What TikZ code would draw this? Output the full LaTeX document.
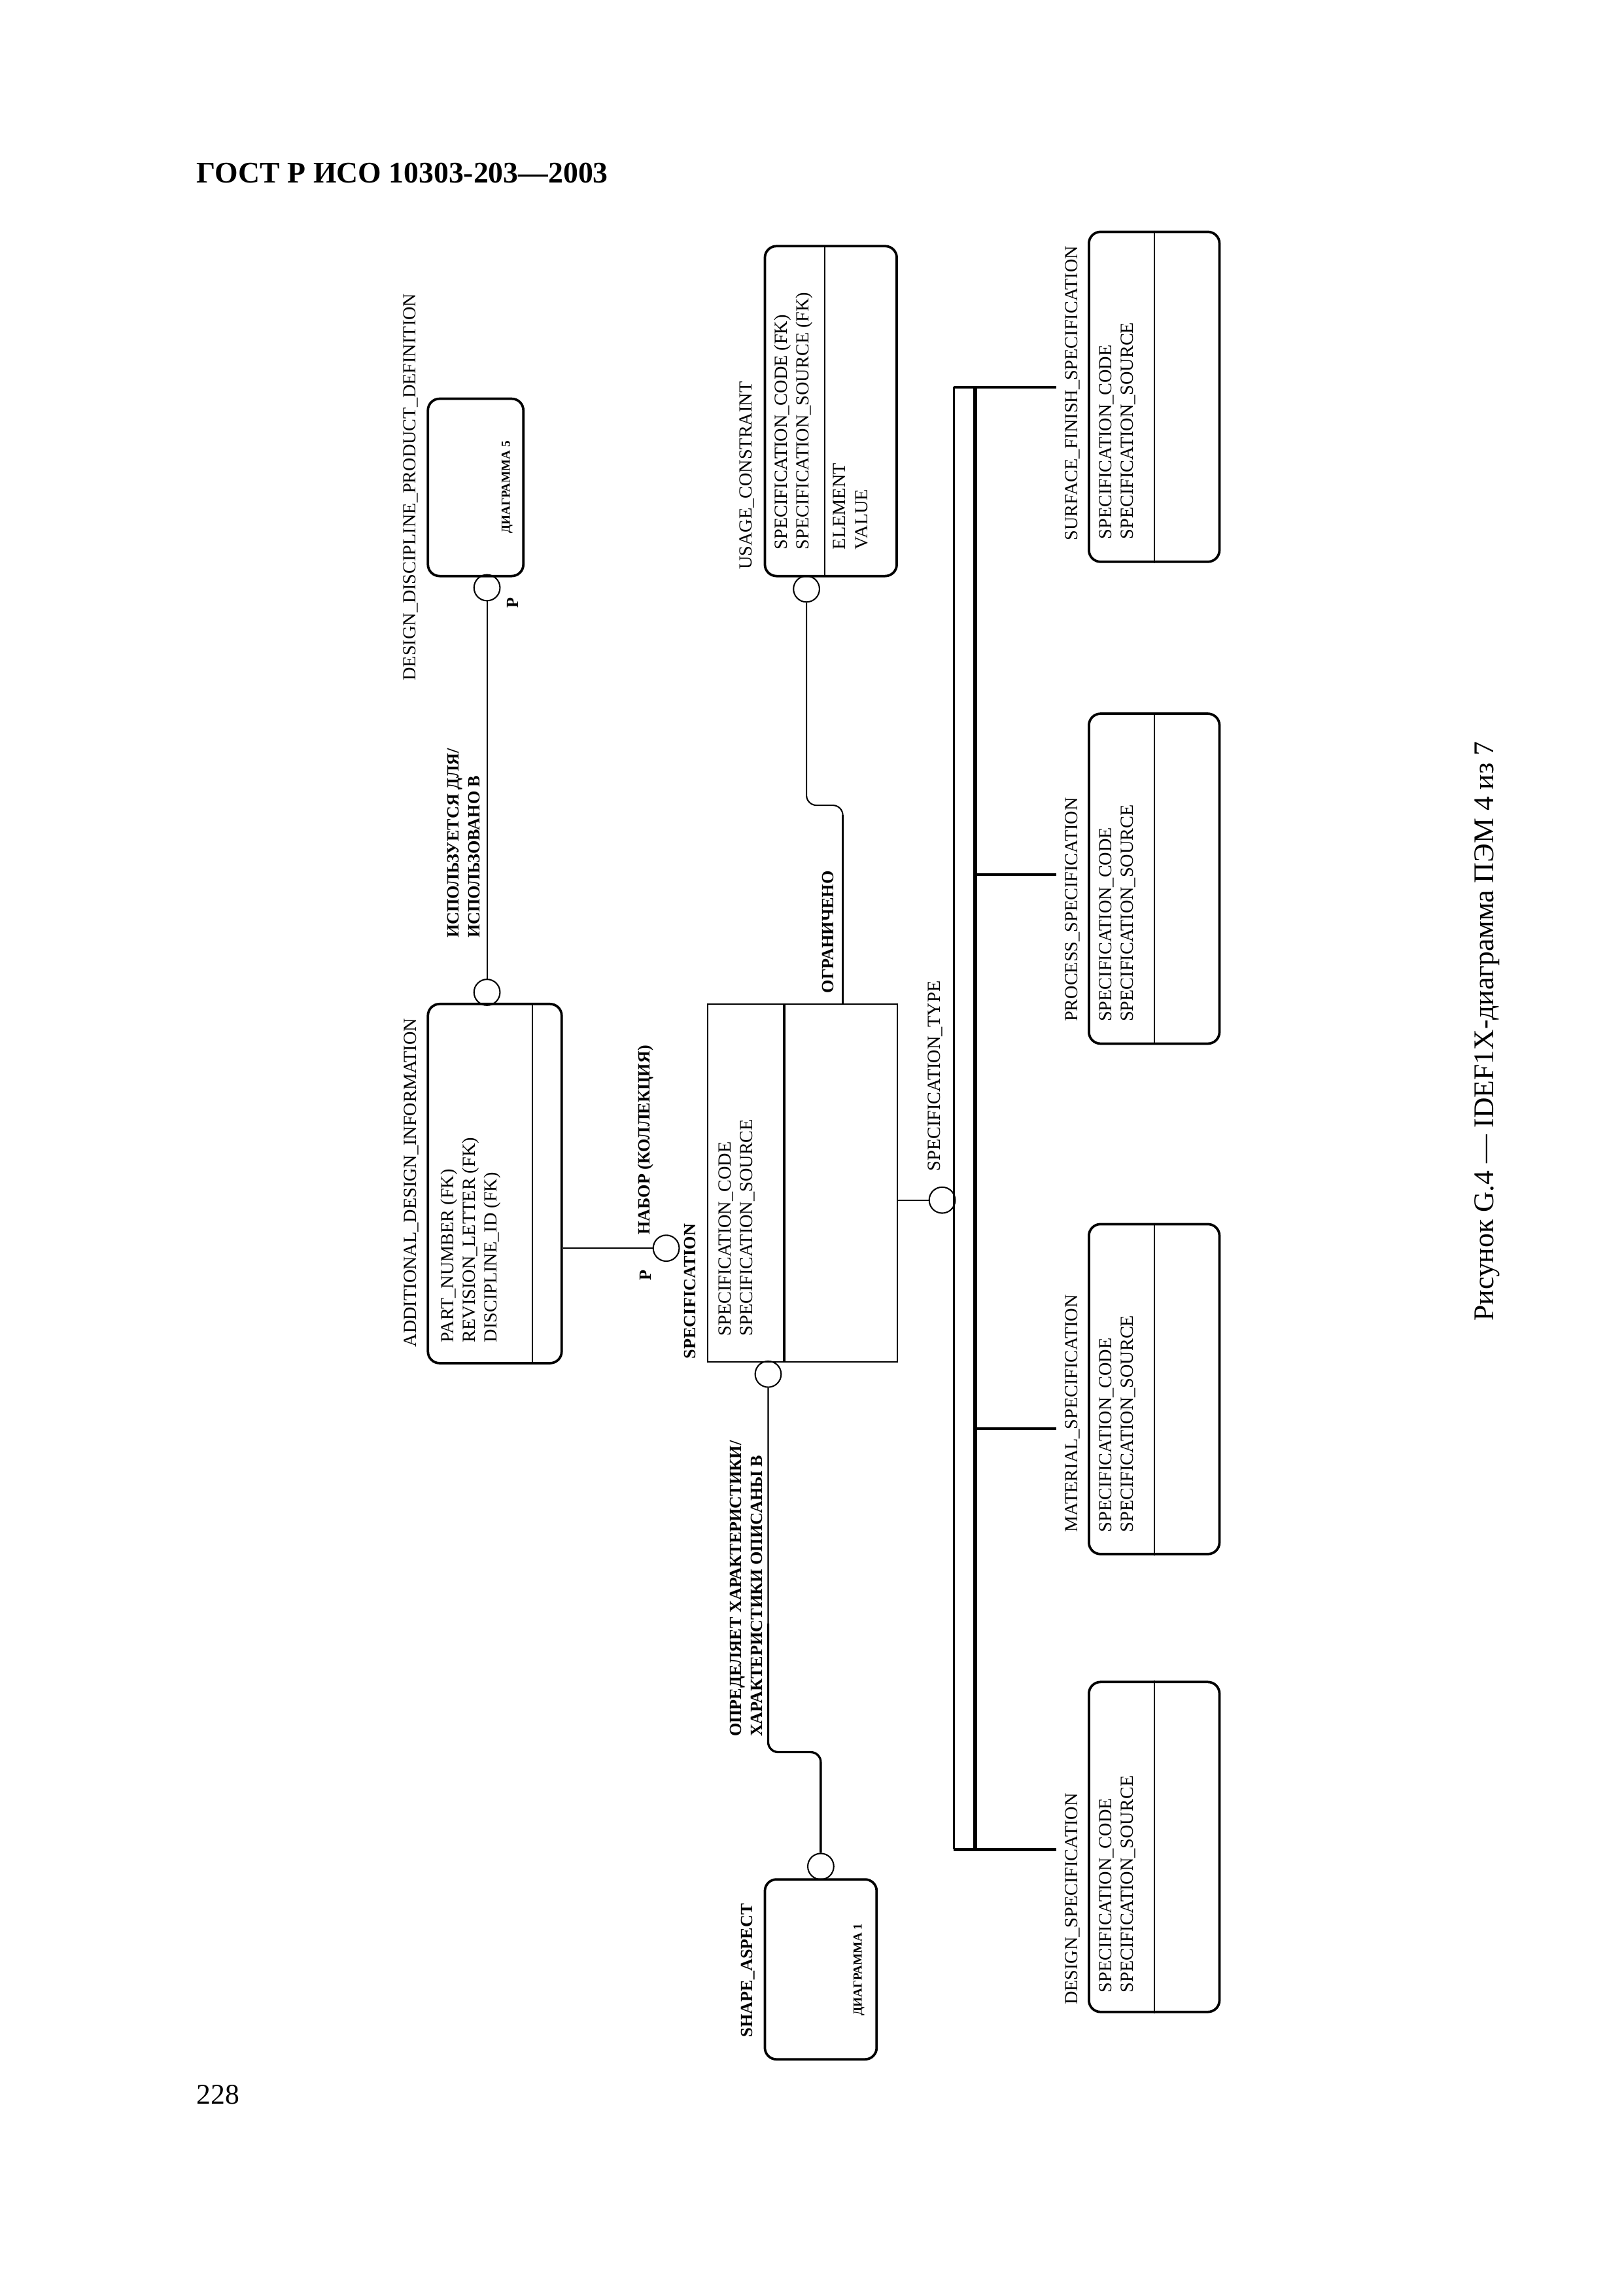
\documentclass[tikz,border=0pt]{standalone}
\usepackage{fontspec}
\setmainfont{Liberation Serif}

\begin{document}
\begin{tikzpicture}[x=0.08396mm, y=-0.08396mm,
        ent/.style={draw=black, line width=0.9pt, rounded corners=1.5mm, inner sep=0pt},
        flat/.style={draw=black, line width=0.5pt, inner sep=0pt},
        div/.style={line width=0.5pt},
        dot/.style={shape=circle, draw=black, line width=0.5pt, minimum size=3.36mm, inner sep=0pt},
        rel/.style={line width=0.5pt, rounded corners=1.3mm},
        thickrel/.style={rel, line width=0.8pt},
        txt/.style={rotate=90, inner sep=0pt, align=left, font=\fontsize{6.8}{8}\selectfont},
        btxt/.style={txt, font=\bfseries\fontsize{6.3}{7.6}\selectfont},
        dia/.style={rotate=90, inner sep=0pt, font=\bfseries\fontsize{4.6}{5.5}\selectfont}]

        \fill[white] (0,0) rectangle (2501,3535.5);
        \useasboundingbox (0,0) rectangle (2501,3535.5);

        \node[anchor=base west, inner sep=0pt, font=\bfseries\fontsize{11}{13}\selectfont] (head) at (302,282) {ГОСТ Р ИСО 10303-203—2003};

        \node[ent, minimum width=12.34mm, minimum height=22.92mm] (ddpd) at (732.5,750.5) {};
        \node[txt] (ddpdname) at (633,750) {DESIGN\_DISCIPLINE\_PRODUCT\_DEFINITION};
        \node[dia] (ddpdref) at (781,750) {ДИАГРАММА 5};
        \node[dot] (c1) at (750,905) {};
        \node[btxt] (p1) at (790,928) {P};

        \node[dot] (c2) at (750,1528) {};
        \node[ent, minimum width=17.29mm, minimum height=46.43mm] (adi) at (762,1822.5) {};
        \draw[div] (820,1546) -- (820,2099);
        \node[txt, anchor=west] (adiname) at (634,2075) {ADDITIONAL\_DESIGN\_INFORMATION};
        \node[txt, anchor=west] (adikey) at (725,2068) {PART\_NUMBER (FK)\\REVISION\_LETTER (FK)\\DISCIPLINE\_ID (FK)};
        \node[btxt, anchor=west] (uses) at (714,1445) {ИСПОЛЬЗУЕТСЯ ДЛЯ/\\ИСПОЛЬЗОВАНО В};

        \path[rel] (c1) edge (c2);

        \node[dot] (c3) at (1026,1922) {};
        \node[btxt] (p2) at (994,1964) {P};
        \node[btxt, anchor=west] (set) at (994,1902) {НАБОР (КОЛЛЕКЦИЯ)};
        \draw[rel] (adi.east |- c3) -- (c3);

        \node[flat, minimum width=24.51mm, minimum height=46.26mm] (spec) at (1236,1821.5) {};
        \draw[line width=0.9pt] (1208,1546) -- (1208,2097);
        \node[btxt, anchor=west] (specname) at (1063,2093) {SPECIFICATION};
        \node[txt, anchor=west] (speckey) at (1135,2058) {SPECIFICATION\_CODE\\SPECIFICATION\_SOURCE};

        \node[dot] (c4) at (1183,2116) {};
        \coordinate (jog1) at (1264,2698);
        \coordinate (thick1) at (1183,2500);
        \node[dot] (c5) at (1264,2874) {};
        \draw[rel] (c4) |- (jog1) -- (c5);
        \draw[thickrel] (thick1) |- (jog1) -- (c5);
        \node[btxt, anchor=west] (defines) at (1149,2675) {ОПРЕДЕЛЯЕТ ХАРАКТЕРИСТИКИ/\\ХАРАКТЕРИСТИКИ ОПИСАНЫ В};

        \node[ent, minimum width=14.45mm, minimum height=23.26mm] (sa) at (1264,3032.5) {};
        \node[btxt] (saname) at (1152,3034) {SHAPE\_ASPECT};
        \node[dia] (saref) at (1323,3033) {ДИАГРАММА 1};

        \node[ent, minimum width=17.05mm, minimum height=42.65mm] (uc) at (1279.5,633) {};
        \draw[div] (1270,379) -- (1270,887);
        \node[txt, anchor=west] (ucname) at (1150,878) {USAGE\_CONSTRAINT};
        \node[txt, anchor=west] (uckey) at (1222,847) {SPECIFICATION\_CODE (FK)\\SPECIFICATION\_SOURCE (FK)};
        \node[txt, anchor=west] (ucattr) at (1310,847) {ELEMENT\\VALUE};
        \node[dot] (c6) at (1242,907) {};
        \coordinate (jog2) at (1298,1240);
        \draw[rel] (c6) |- (jog2) -- (jog2 |- spec.north);
        \draw[thickrel] ([yshift=-1.3mm]jog2) -- (jog2 |- spec.north);
        \node[btxt, anchor=west] (limits) at (1275,1530) {ОГРАНИЧЕНО};

        \node[dot] (c7) at (1451,1848) {};
        \draw[rel] (spec.east |- c7) -- (c7);
        \node[txt, anchor=west] (spectype) at (1440,1804) {SPECIFICATION\_TYPE};

        \coordinate (cat1) at (1469,596);
        \coordinate (cat2) at (1469,2848);
        \coordinate (bar1) at (1502,596);
        \coordinate (bar2) at (1502,2848);
        \draw[line width=0.7pt] (cat1) -- (cat2);
        \draw[line width=1.3pt] (bar1) -- (bar2);

        \node[ent, minimum width=16.88mm, minimum height=42.65mm] (sfs) at (1777.5,611) {};
        \draw[div] (sfs.north) -- (sfs.south);
        \node[txt, anchor=west] (sfsname) at (1652,833) {SURFACE\_FINISH\_SPECIFICATION};
        \node[txt, anchor=west] (sfskey) at (1721,831) {SPECIFICATION\_CODE\\SPECIFICATION\_SOURCE};
        \coordinate (sfsin) at (1627,596);
        \draw[line width=1pt] (cat1) -- (sfsin);

        \node[ent, minimum width=16.88mm, minimum height=42.65mm] (ps) at (1777.5,1353) {};
        \draw[div] (ps.north) -- (ps.south);
        \node[txt, anchor=west] (psname) at (1652,1574) {PROCESS\_SPECIFICATION};
        \node[txt, anchor=west] (pskey) at (1721,1574) {SPECIFICATION\_CODE\\SPECIFICATION\_SOURCE};
        \coordinate (psin) at (1627,1347);
        \draw[line width=1pt] (bar1 |- psin) -- (psin);

        \node[ent, minimum width=16.88mm, minimum height=42.65mm] (ms) at (1777.5,2139) {};
        \draw[div] (ms.north) -- (ms.south);
        \node[txt, anchor=west] (msname) at (1652,2360) {MATERIAL\_SPECIFICATION};
        \node[txt, anchor=west] (mskey) at (1721,2360) {SPECIFICATION\_CODE\\SPECIFICATION\_SOURCE};
        \coordinate (msin) at (1627,2200);
        \draw[line width=1pt] (bar1 |- msin) -- (msin);

        \node[ent, minimum width=16.88mm, minimum height=42.65mm] (ds) at (1777.5,2844) {};
        \draw[div] (ds.north) -- (ds.south);
        \node[txt, anchor=west] (dsname) at (1652,3088) {DESIGN\_SPECIFICATION};
        \node[txt, anchor=west] (dskey) at (1721,3069) {SPECIFICATION\_CODE\\SPECIFICATION\_SOURCE};
        \coordinate (dsin) at (1627,2848);
        \draw[line width=1pt] (cat2) -- (dsin);

        \node[rotate=90, inner sep=0pt, font=\fontsize{10.5}{12}\selectfont] (caption) at (2290,1588) {Рисунок G.4 — IDEF1X-диаграмма ПЭМ 4 из 7};
        \node[anchor=base west, inner sep=0pt, font=\fontsize{10.5}{12}\selectfont] (page) at (302,3240) {228};
    \end{tikzpicture}
\end{document}
